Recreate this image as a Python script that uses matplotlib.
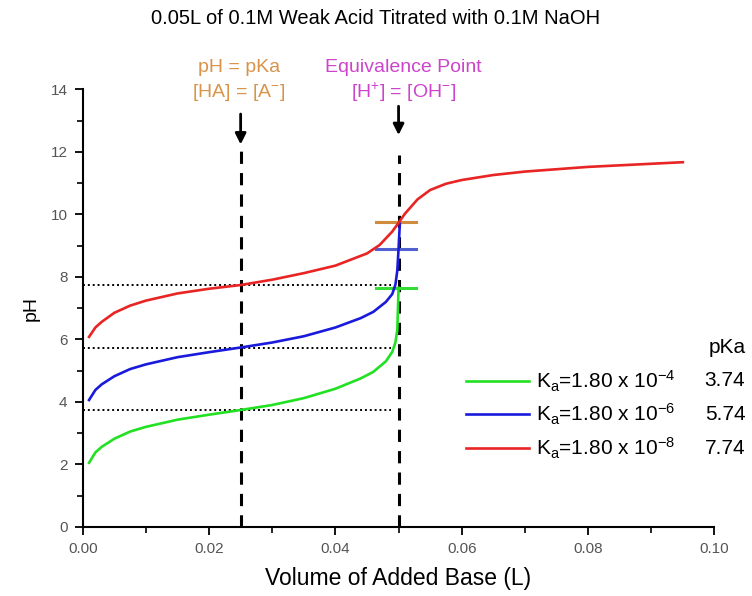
import numpy as np
import matplotlib.pyplot as plt
from matplotlib.ticker import MultipleLocator

plt.rcParams['font.family'] = ['Liberation Sans', 'DejaVu Sans']
plt.rcParams['mathtext.fontset'] = 'custom'
plt.rcParams['mathtext.rm'] = 'Liberation Sans'
plt.rcParams['mathtext.it'] = 'Liberation Sans'

# --- Data
vol_red = [0.001, 0.002, 0.003, 0.005, 0.0075, 0.010, 0.015, 0.020, 0.025, 0.030, 0.035,
           0.040, 0.045, 0.047, 0.049, 0.050, 0.051, 0.053, 0.055, 0.0575, 0.060,
           0.065, 0.070, 0.080, 0.090, 0.095]
ph_red = [6.08, 6.38, 6.56, 6.85, 7.08, 7.24, 7.47, 7.62, 7.74, 7.91, 8.12,
          8.36, 8.75, 9.02, 9.45, 9.73, 10.02, 10.48, 10.78, 10.98, 11.10,
          11.26, 11.37, 11.52, 11.62, 11.67]

vol_blue = [0.001, 0.002, 0.003, 0.005, 0.0075, 0.010, 0.015, 0.020, 0.025, 0.030, 0.035,
            0.040, 0.044, 0.046, 0.048, 0.049, 0.0495, 0.0498, 0.050, 0.0502]
ph_blue = [4.06, 4.38, 4.56, 4.82, 5.05, 5.20, 5.43, 5.59, 5.74, 5.90, 6.10,
           6.38, 6.68, 6.88, 7.20, 7.45, 7.75, 8.20, 8.90, 9.70]

vol_green = [0.001, 0.002, 0.003, 0.005, 0.0075, 0.010, 0.015, 0.020, 0.025, 0.030, 0.035,
             0.040, 0.044, 0.046, 0.048, 0.049, 0.0495, 0.0498, 0.050]
ph_green = [2.05, 2.38, 2.56, 2.82, 3.05, 3.20, 3.43, 3.59, 3.74, 3.90, 4.12,
            4.42, 4.75, 4.96, 5.30, 5.60, 5.90, 6.30, 7.65]

ka_labels = [r'K$_a$=1.80 x 10$^{-4}$', r'K$_a$=1.80 x 10$^{-6}$', r'K$_a$=1.80 x 10$^{-8}$']
pka_values = [3.74, 5.74, 7.74]
eq_marks = [7.65, 8.90, 9.76]       # short horizontal marks near equivalence
half_eq_vol = 0.025
eq_vol = 0.050


def get_color_plot(idx: int) -> str:
    """Colour of the three titration curves"""
    return ['#22e022', '#1a1adc', '#e82424'][idx]


fig = plt.figure(figsize=(7.52, 5.96), dpi=100)
ax = fig.add_axes([0.110, 0.116, 0.840, 0.734])

# --- Guide lines
for pka in pka_values:
    ax.plot([0, 0.0488], [pka, pka], color='black', lw=1.4, linestyle=(0, (1, 1.5)), zorder=1)
ax.plot([half_eq_vol, half_eq_vol], [0, 12.15], color='black', lw=2.2, linestyle=(0, (4, 3)), zorder=1)
ax.plot([eq_vol, eq_vol], [0, 11.9], color='black', lw=2.2, linestyle=(0, (4, 3)), zorder=1)

# --- Curves
curves = [(vol_green, ph_green), (vol_blue, ph_blue), (vol_red, ph_red)]
for idx, (vol, ph) in enumerate(curves):
    ax.plot(vol, ph, color=get_color_plot(idx), lw=1.9, label=ka_labels[idx], zorder=3)

# --- Equivalence marks
mark_colors = ['#33dd33', '#5060d0', '#d08c3c']
for idx, ph in enumerate(eq_marks):
    ax.plot([0.0464, 0.0528], [ph, ph], color=mark_colors[idx], lw=2.2, zorder=2)

# --- Arrows and annotations
ax.annotate('', xy=(half_eq_vol, 12.15), xytext=(half_eq_vol, 13.3),
            arrowprops=dict(arrowstyle='-|>', color='black', lw=2, mutation_scale=16),
            annotation_clip=False)
ax.annotate('', xy=(eq_vol, 12.45), xytext=(eq_vol, 13.55),
            arrowprops=dict(arrowstyle='-|>', color='black', lw=2, mutation_scale=16),
            annotation_clip=False)
ax.text(0.0247, 14.7, 'pH = pKa', color='#d8944a', fontsize=14, ha='center', va='center')
ax.text(0.0247, 13.9, r'[HA] = [A$^{-}$]', color='#d8944a', fontsize=14, ha='center', va='center')
ax.text(0.0508, 14.7, 'Equivalence Point', color='#cc44cc', fontsize=14, ha='center', va='center')
ax.text(0.0508, 13.9, r'[H$^{+}$] = [OH$^{-}$]', color='#cc44cc', fontsize=14, ha='center', va='center')

# --- Legend with pKa column
ax.legend(loc='upper left', bbox_to_anchor=(0.607, 0.362), frameon=False, fontsize=15,
          handlelength=3.0, handletextpad=0.33, labelspacing=0.4, borderaxespad=0,
          borderpad=0)
ax.text(1.049, 0.41, 'pKa', transform=ax.transAxes, fontsize=15, ha='right', va='center')
for idx, pka in enumerate(pka_values):
    ax.text(1.049, 0.334 - idx * 0.078, f'{pka:.2f}', transform=ax.transAxes,
            fontsize=15, ha='right', va='center')

# --- Axes styling
ax.set_xlim(0, 0.10)
ax.set_ylim(0, 14)
ax.xaxis.set_major_locator(MultipleLocator(0.02))
ax.xaxis.set_minor_locator(MultipleLocator(0.01))
ax.yaxis.set_major_locator(MultipleLocator(2))
ax.yaxis.set_minor_locator(MultipleLocator(1))
ax.xaxis.set_major_formatter(plt.FormatStrFormatter('%.2f'))
for side in ['top', 'right']:
    ax.spines[side].set_visible(False)
for side in ['left', 'bottom']:
    ax.spines[side].set_linewidth(1.5)
ax.tick_params(which='major', direction='out', length=6, width=1.3, labelsize=11,
               labelcolor='#555555', pad=5)
ax.tick_params(which='minor', direction='out', length=4, width=1.2)

ax.set_xlabel('Volume of Added Base (L)', fontsize=16.5, labelpad=8)
ax.set_ylabel('pH', fontsize=14, labelpad=8)
fig.suptitle('0.05L of 0.1M Weak Acid Titrated with 0.1M NaOH', fontsize=14.5, y=0.985)

fig.savefig('out.png', dpi=100)
